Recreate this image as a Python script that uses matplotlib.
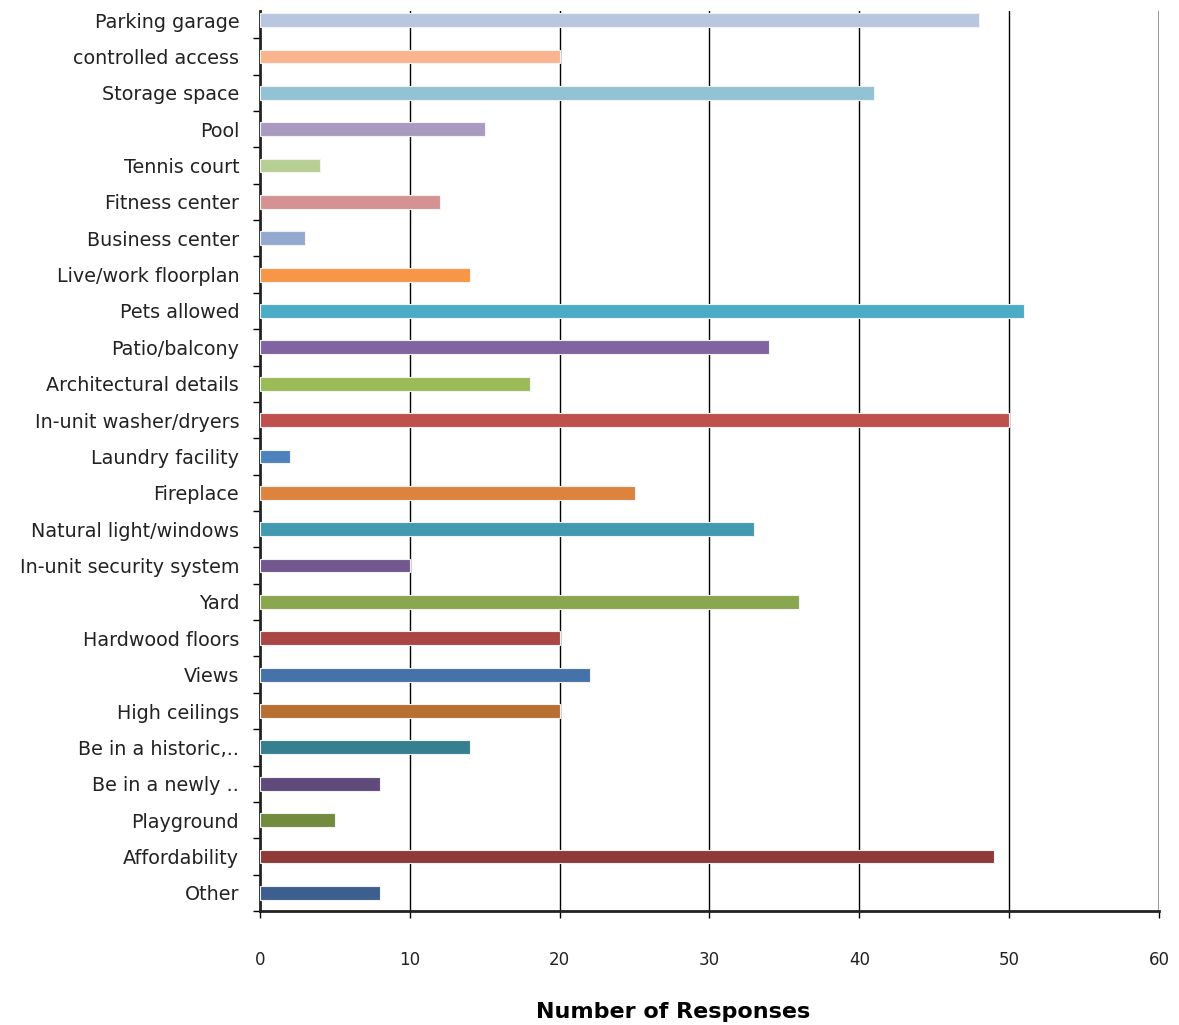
import numpy as np
import matplotlib.pyplot as plt

# survey answers, listed top to bottom as they appear on the chart
features = ["Parking garage", "controlled access", "Storage space", "Pool",
            "Tennis court", "Fitness center", "Business center",
            "Live/work floorplan", "Pets allowed", "Patio/balcony",
            "Architectural details", "In-unit washer/dryers",
            "Laundry facility", "Fireplace", "Natural light/windows",
            "In-unit security system", "Yard", "Hardwood floors", "Views",
            "High ceilings", "Be in a historic,..", "Be in a newly ..",
            "Playground", "Affordability", "Other"]
responses = [48, 20, 41, 15, 4, 12, 3, 14, 51, 34, 18, 50, 2, 25, 33,
             10, 36, 20, 22, 20, 14, 8, 5, 49, 8]
bar_colors = ["#B9C6E0", "#FAB48F", "#92C3D4", "#A99AC0", "#B8CF94",
              "#D49392", "#94A9D0", "#F79646", "#4BACC6", "#8064A2",
              "#9BBB59", "#C0504D", "#4F81BD", "#DE833E", "#4299B0",
              "#72588F", "#8AA64E", "#AA4746", "#4672AA", "#B86F32",
              "#367F91", "#5F4A7B", "#728B3F", "#8D3A38", "#3C5F8E"]
xticks = [0, 10, 20, 30, 40, 50, 60]

plt.rcParams['font.family'] = ['DejaVu Sans']

fig = plt.figure(figsize=(11.79, 10.25), dpi=100)
ax = fig.add_axes([0.2205, 0.1112, 0.7625, 0.8781])

ypos = np.arange(len(features))
ax.barh(ypos, responses, height=0.38, color=bar_colors,
        edgecolor="#f2f2f2", linewidth=0.8, zorder=3)

ax.set_xlim(0, 60)
ax.set_ylim(24.5, -0.25)

# vertical gridlines at each major tick
for x in xticks[1:-1]:
    ax.axvline(x, color="black", linewidth=1.0, zorder=1)
ax.axvline(60, color="#8c8c8c", linewidth=2.0, zorder=1)

ax.set_xticks(xticks)
ax.set_xticklabels([str(v) for v in xticks], fontsize=12, color="#222222")
ax.tick_params(axis="x", direction="out", length=5, width=1, pad=24)

ax.set_yticks(ypos)
ax.set_yticklabels(features, fontsize=13.8, color="#222222")
ax.set_yticks(np.arange(-0.5, len(features), 1)[1:], minor=True)
ax.tick_params(axis="y", which="major", length=0, pad=15)
ax.tick_params(axis="y", which="minor", direction="out", length=5, width=1)

for side in ["top", "right"]:
    ax.spines[side].set_visible(False)
ax.spines["left"].set_linewidth(2)
ax.spines["bottom"].set_linewidth(2)
ax.spines["bottom"].set_color("#222222")
ax.spines["left"].set_color("#222222")

fig.text(673 / 1179, 1 - 1012 / 1025, "Number of Responses", ha="center",
         va="center", fontsize=16, fontweight="bold", color="black")

fig.savefig("out.png", dpi=100, facecolor="white")
